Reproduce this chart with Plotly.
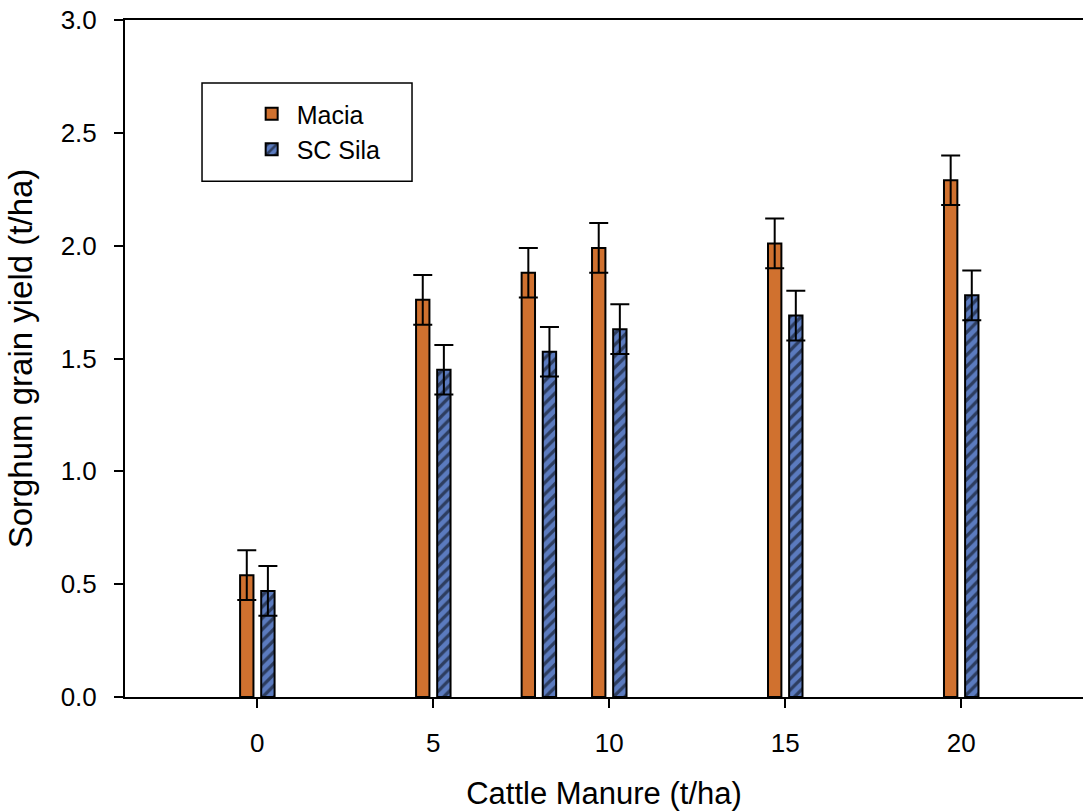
import plotly.graph_objects as go

# Cattle manure rates (t/ha) and sorghum grain yield (t/ha) per variety
manure_rates = [0, 5, 8, 10, 15, 20]
macia_yield = [0.54, 1.76, 1.88, 1.99, 2.01, 2.29]
sc_sila_yield = [0.47, 1.45, 1.53, 1.63, 1.69, 1.78]
macia_se = [0.11, 0.11, 0.11, 0.11, 0.11, 0.11]
sc_sila_se = [0.11, 0.11, 0.11, 0.11, 0.11, 0.11]
x_ticks = [0, 5, 10, 15, 20]
y_ticks = [0.0, 0.5, 1.0, 1.5, 2.0, 2.5, 3.0]

FONT = "Liberation Sans, Arial, sans-serif"
ORANGE = "#D0712F"
BLUE = "#5B7BBF"
SHIFT = 0.3
BAR_W = 0.38

fig = go.Figure()

fig.add_trace(go.Bar(
    name="Macia",
    x=[r - SHIFT for r in manure_rates],
    y=macia_yield,
    width=BAR_W,
    marker=dict(color=ORANGE, line=dict(color="black", width=2)),
    error_y=dict(type="data", array=macia_se, visible=True,
                 color="black", thickness=2, width=9.5),
))

fig.add_trace(go.Bar(
    name="SC Sila",
    x=[r + SHIFT for r in manure_rates],
    y=sc_sila_yield,
    width=BAR_W,
    marker=dict(color=BLUE, line=dict(color="black", width=2),
                pattern=dict(shape="/", fgcolor="black", bgcolor=BLUE,
                             size=8, solidity=0.4)),
    error_y=dict(type="data", array=sc_sila_se, visible=True,
                 color="black", thickness=2, width=9.5),
))

# legend frame
fig.add_shape(type="rect", xref="paper", yref="paper",
              x0=0.0804, x1=0.2996, y0=0.762, y1=0.907,
              line=dict(color="black", width=1.5), fillcolor="white",
              layer="below")

fig.update_layout(
    width=1083, height=811,
    margin=dict(l=125, r=0, t=20, b=114),
    plot_bgcolor="white", paper_bgcolor="white",
    barmode="overlay",
    font=dict(family=FONT, color="black", size=25),
    showlegend=True,
    legend=dict(x=0.127, y=0.895, xanchor="left", yanchor="top",
                bgcolor="rgba(0,0,0,0)", borderwidth=0,
                font=dict(size=25, family=FONT), tracegroupgap=0,
                itemwidth=40),
    xaxis=dict(
        range=[-3.76, 23.46],
        tickmode="array", tickvals=x_ticks,
        ticks="outside", ticklen=9, tickwidth=1.5, tickcolor="black",
        showline=True, linecolor="black", linewidth=2, mirror=True,
        showgrid=False, zeroline=False,
        tickfont=dict(size=26, family=FONT),
        ticklabelstandoff=13,
        title=dict(text="Cattle Manure (t/ha)", font=dict(size=31, family=FONT),
                   standoff=26),
    ),
    yaxis=dict(
        range=[0, 3.0],
        tickmode="array", tickvals=y_ticks,
        ticktext=[f"{v:.1f}" for v in y_ticks],
        ticks="outside", ticklen=9, tickwidth=1.5, tickcolor="black",
        showline=True, linecolor="black", linewidth=2,
        showgrid=False, zeroline=False,
        tickfont=dict(size=26, family=FONT),
        ticklabelstandoff=12,
        title=dict(text="Sorghum grain yield (t/ha)", font=dict(size=33, family=FONT),
                   standoff=18),
    ),
)

fig.write_html("out.html")
